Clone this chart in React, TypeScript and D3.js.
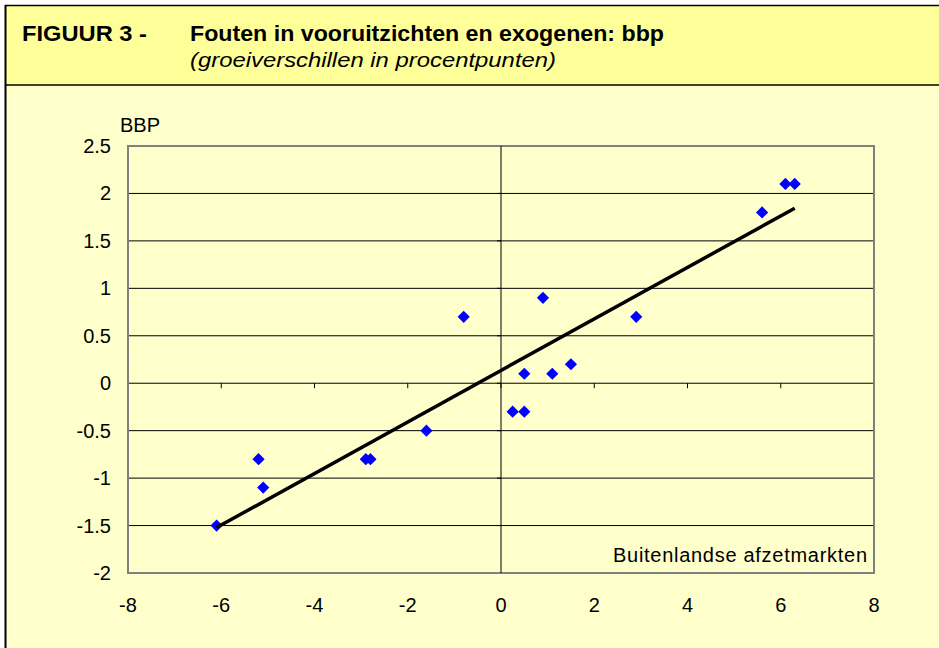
import React from "react";
import * as d3 from "d3";

const titleLabel = "FIGUUR 3 -";
const titleText = "Fouten in vooruitzichten en exogenen: bbp";
const subtitleText = "(groeiverschillen in procentpunten)";
const yAxisTitle = "BBP";
const xAxisTitle = "Buitenlandse afzetmarkten";

const xTicks = [-8, -6, -4, -2, 0, 2, 4, 6, 8];
const yTicks = [-2, -1.5, -1, -0.5, 0, 0.5, 1, 1.5, 2, 2.5];

const xValues = [-6.1, -5.2, -5.1, -2.9, -2.8, -1.6, -0.8, 0.25, 0.5, 0.5, 0.9, 1.1, 1.5, 2.9, 5.6, 6.1, 6.3];
const yValues = [-1.5, -0.8, -1.1, -0.8, -0.8, -0.5, 0.7, -0.3, -0.3, 0.1, 0.9, 0.1, 0.2, 0.7, 1.8, 2.1, 2.1];

const W = 939;
const H = 648;
const plot = { left: 128, right: 874, top: 146, bottom: 573 };

export default function App() {
  const x = d3.scaleLinear().domain([-8, 8]).range([plot.left, plot.right]);
  const y = d3.scaleLinear().domain([-2, 2.5]).range([plot.bottom, plot.top]);

  const pts = xValues.map((v, i) => [v, yValues[i]] as [number, number]);
  const mx = d3.mean(xValues)!;
  const my = d3.mean(yValues)!;
  const sxy = d3.sum(pts, (p) => (p[0] - mx) * (p[1] - my));
  const sxx = d3.sum(pts, (p) => (p[0] - mx) * (p[0] - mx));
  const slope = sxy / sxx;
  const icpt = my - slope * mx;
  const [xmin, xmax] = d3.extent(xValues) as [number, number];
  const trend = d3.line<number>().x((v) => x(v)).y((v) => y(icpt + slope * v))([xmin, xmax]);

  const diamond = d3.symbol().type(d3.symbolDiamond2).size(95)();
  const font = "Arial, 'Liberation Sans', Helvetica, sans-serif";
  const inner = yTicks.filter((t) => t > -2 && t < 2.5);

  return (
    <div style={{ position: "absolute", left: 0, top: 0 }}>
      <svg width={W} height={H} style={{ display: "block" }} fontFamily={font}>
        <rect x={0} y={0} width={W} height={H} fill="#FFFFFF" />
        <rect x={5} y={5} width={W - 5} height={80} fill="#FFFF99" />
        <rect x={5} y={85} width={W - 5} height={H - 85} fill="#FFFFCC" />
        <line x1={5} x2={W} y1={5.5} y2={5.5} stroke="#000" strokeWidth={1.5} />
        <line x1={5} x2={W} y1={85} y2={85} stroke="#000" strokeWidth={1.5} />
        <line x1={5.5} x2={5.5} y1={5} y2={H} stroke="#000" strokeWidth={2} />
        <text x={22} y={41} fontSize={22} fontWeight="bold" fill="#000" textLength={125} lengthAdjust="spacingAndGlyphs">{titleLabel}</text>
        <text x={190} y={41} fontSize={22} fontWeight="bold" fill="#000" textLength={474} lengthAdjust="spacingAndGlyphs">{titleText}</text>
        <text x={190} y={67} fontSize={21} fontStyle="italic" fill="#000" textLength={366} lengthAdjust="spacingAndGlyphs">{subtitleText}</text>

        {inner.map((t) => (
          <line key={"g" + t} x1={plot.left} x2={plot.right} y1={y(t)} y2={y(t)} stroke="#000" strokeWidth={1} />
        ))}
        <rect x={plot.left} y={plot.top} width={plot.right - plot.left} height={plot.bottom - plot.top} fill="none" stroke="#808080" strokeWidth={2} />
        <line x1={x(0)} x2={x(0)} y1={plot.top} y2={plot.bottom} stroke="#000" strokeWidth={1} />
        {inner.map((t) => (
          <line key={"yt" + t} x1={x(0) - 4} x2={x(0)} y1={y(t)} y2={y(t)} stroke="#000" strokeWidth={1} />
        ))}
        {xTicks.filter((t) => t > -8 && t < 8).map((t) => (
          <line key={"xt" + t} x1={x(t)} x2={x(t)} y1={y(0)} y2={y(0) + 5} stroke="#000" strokeWidth={1} />
        ))}

        {yTicks.map((t) => (
          <text key={"yl" + t} x={111} y={y(t) + 7} fontSize={20} textAnchor="end" fill="#000">{String(t)}</text>
        ))}
        {xTicks.map((t) => (
          <text key={"xl" + t} x={x(t)} y={612} fontSize={20} textAnchor="middle" fill="#000">{String(t)}</text>
        ))}
        <text x={120} y={132} fontSize={20} fill="#000">{yAxisTitle}</text>
        <text x={867} y={562} fontSize={20} textAnchor="end" fill="#000" textLength={254} lengthAdjust="spacing">{xAxisTitle}</text>

        {pts.map((p, i) => (
          <path key={"p" + i} d={diamond || ""} transform={`translate(${x(p[0])},${y(p[1])})`} fill="#0000FF" />
        ))}
        <path d={trend || ""} fill="none" stroke="#000" strokeWidth={3.5} />
      </svg>
    </div>
  );
}
